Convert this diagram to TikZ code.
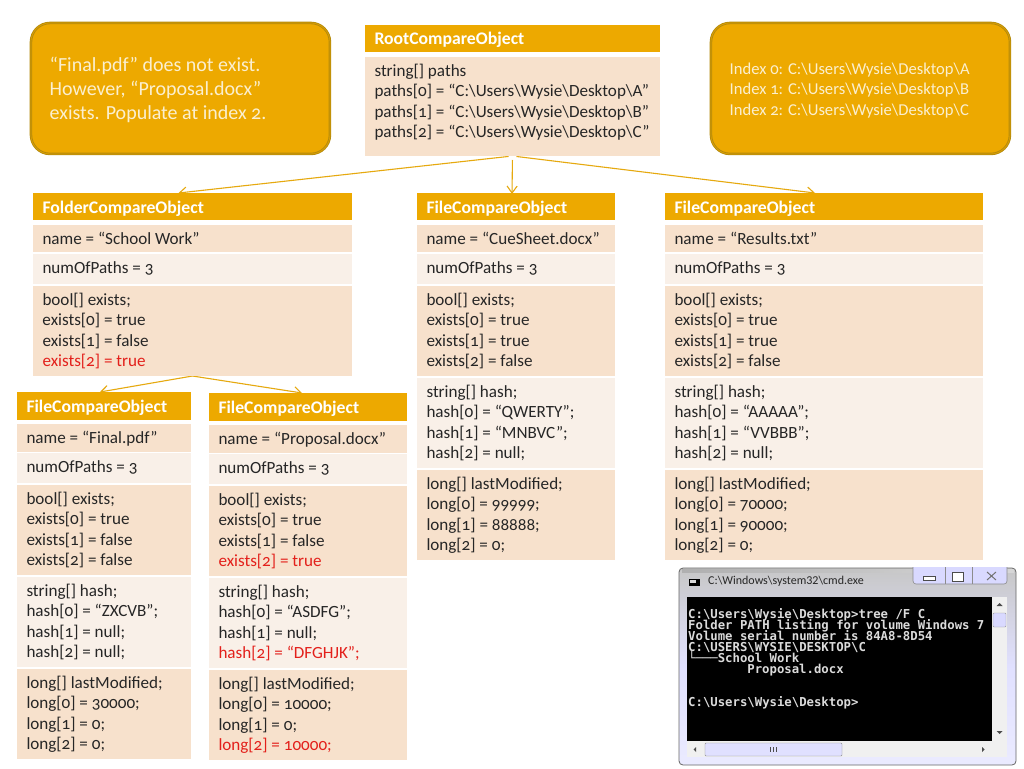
\documentclass[tikz,border=0pt]{standalone}
\usepackage{fontspec}
\setmainfont[Numbers=OldStyle]{Carlito}
\newfontfamily\consolefont{DejaVu Sans Mono}
\usetikzlibrary{arrows.meta,shadings}
\pgfdeclarelayer{behind}
\pgfsetlayers{behind,main}
\setlength{\lineskiplimit}{-30pt}
\definecolor{hdr}{HTML}{EDA900}
\definecolor{darkcell}{HTML}{F7E1CC}
\definecolor{lightcell}{HTML}{F9F0E8}
\definecolor{calloutedge}{HTML}{B58A0B}
\definecolor{creamtext}{HTML}{FBEFCF}
\definecolor{redtext}{HTML}{E3201B}
\definecolor{bodytext}{HTML}{262626}
\definecolor{conn}{HTML}{E6A90F}
\tikzset{
  cellbox/.style={anchor=north west,inner sep=0pt,outer sep=0pt,align=left},
  darkrow/.style={cellbox,fill=darkcell,text=bodytext},
  lightrow/.style={cellbox,fill=lightcell,text=bodytext},
  hdrrow/.style={cellbox,fill=hdr,text=white},
  callout/.style={anchor=north west,rounded corners=19pt,fill=hdr,draw=calloutedge,line width=.9pt,double=hdr!70!calloutedge,double distance=.7pt,inner sep=0pt,text=creamtext,align=left},
  linkarrow/.style={draw=conn,line width=1.1pt,-{Straight Barb[length=7pt,width=10pt]}},
}
\newcommand{\cell}[7]{%
  \node[#6,minimum width=#4pt,minimum height=#5pt] (#1) at (#2,#3)
   {\hspace*{9.5pt}\parbox[c][#5pt][t]{\dimexpr#4pt-9.5pt\relax}{\fontsize{17.1}{20.5}\selectfont\rule{0pt}{19pt}#7}};}
\newcommand{\headcell}[6]{%
  \node[hdrrow,minimum width=#4pt,minimum height=#5pt] (#1) at (#2,#3)
   {\hspace*{9.5pt}\parbox[c][#5pt][t]{\dimexpr#4pt-9.5pt\relax}{\fontsize{17.7}{20}\selectfont\bfseries\rule{0pt}{20pt}#6}};}
\newcommand{\rd}[1]{\textcolor{redtext}{#1}}
\begin{document}
\begin{tikzpicture}[x=1pt,y=-1pt]
\useasboundingbox (0,0) rectangle (1024,768);
% callouts
\node[callout,minimum width=299pt,minimum height=131pt] (calloutA) at (30.5,22.5)
  {\hspace*{18.5pt}\parbox[c][131pt][t]{280pt}{\fontsize{20}{24}\selectfont\rule{0pt}{48.5pt}“Final.pdf” does not exist.\\However, “Proposal.docx”\\exists. Populate at index 2.}};
\node[callout,minimum width=299pt,minimum height=131pt] (calloutB) at (710.5,22.5)
  {\hspace*{18.5pt}\parbox[c][131pt][t]{280pt}{\fontsize{16.6}{20.5}\selectfont\rule{0pt}{51.5pt}Index 0: C:\textbackslash Users\textbackslash Wysie\textbackslash Desktop\textbackslash A\\Index 1: C:\textbackslash Users\textbackslash Wysie\textbackslash Desktop\textbackslash B\\Index 2: C:\textbackslash Users\textbackslash Wysie\textbackslash Desktop\textbackslash C}};
% root
\headcell{rootH}{365}{25}{295}{27}{RootCompareObject}
\cell{rootB}{365}{57}{295}{99}{darkrow}{string[] paths\\paths[0] = “C:\textbackslash Users\textbackslash Wysie\textbackslash Desktop\textbackslash A”\\paths[1] = “C:\textbackslash Users\textbackslash Wysie\textbackslash Desktop\textbackslash B”\\paths[2] = “C:\textbackslash Users\textbackslash Wysie\textbackslash Desktop\textbackslash C”}
% folder
\headcell{folderH}{33}{193}{319}{27}{FolderCompareObject}
\cell{folderN}{33}{225}{319}{27}{darkrow}{name = “School Work”}
\cell{folderP}{33}{254}{319}{30}{lightrow}{numOfPaths = 3}
\cell{folderE}{33}{286}{319}{90}{darkrow}{bool[] exists;\\exists[0] = true\\exists[1] = false\\\rd{exists[2] = true}}
% file cue
\headcell{cueH}{417}{193}{198}{27}{FileCompareObject}
\cell{cueN}{417}{225}{198}{27}{darkrow}{name = “CueSheet.docx”}
\cell{cueP}{417}{254}{198}{30}{lightrow}{numOfPaths = 3}
\cell{cueE}{417}{286}{198}{90}{darkrow}{bool[] exists;\\exists[0] = true\\exists[1] = true\\exists[2] = false}
\cell{cueS}{417}{378}{198}{90}{lightrow}{string[] hash;\\hash[0] = “QWERTY”;\\hash[1] = “MNBVC”;\\hash[2] = null;}
\cell{cueL}{417}{470}{198}{90}{darkrow}{long[] lastModified;\\long[0] = 99999;\\long[1] = 88888;\\long[2] = 0;}
% file results
\headcell{resH}{665}{193}{318}{27}{FileCompareObject}
\cell{resN}{665}{225}{318}{27}{darkrow}{name = “Results.txt”}
\cell{resP}{665}{254}{318}{30}{lightrow}{numOfPaths = 3}
\cell{resE}{665}{286}{318}{90}{darkrow}{bool[] exists;\\exists[0] = true\\exists[1] = true\\exists[2] = false}
\cell{resS}{665}{378}{318}{90}{lightrow}{string[] hash;\\hash[0] = “AAAAA”;\\hash[1] = “VVBBB”;\\hash[2] = null;}
\cell{resL}{665}{470}{318}{90}{darkrow}{long[] lastModified;\\long[0] = 70000;\\long[1] = 90000;\\long[2] = 0;}
% final
\headcell{finH}{17}{392}{174}{28}{FileCompareObject}
\cell{finN}{17}{424}{174}{28}{darkrow}{name = “Final.pdf”}
\cell{finP}{17}{453}{174}{30}{lightrow}{numOfPaths = 3}
\cell{finE}{17}{485}{174}{90}{darkrow}{bool[] exists;\\exists[0] = true\\exists[1] = false\\exists[2] = false}
\cell{finS}{17}{577}{174}{90}{lightrow}{string[] hash;\\hash[0] = “ZXCVB”;\\hash[1] = null;\\hash[2] = null;}
\cell{finL}{17}{669}{174}{90}{darkrow}{long[] lastModified;\\long[0] = 30000;\\long[1] = 0;\\long[2] = 0;}
% proposal
\headcell{proH}{209}{393}{198}{28}{FileCompareObject}
\cell{proN}{209}{425}{198}{28}{darkrow}{name = “Proposal.docx”}
\cell{proP}{209}{454}{198}{30}{lightrow}{numOfPaths = 3}
\cell{proE}{209}{486}{198}{90}{darkrow}{bool[] exists;\\exists[0] = true\\exists[1] = false\\\rd{exists[2] = true}}
\cell{proS}{209}{578}{198}{90}{lightrow}{string[] hash;\\hash[0] = “ASDFG”;\\hash[1] = null;\\\rd{hash[2] = “DFGHJK”;}}
\cell{proL}{209}{670}{198}{90}{darkrow}{long[] lastModified;\\long[0] = 10000;\\long[1] = 0;\\\rd{long[2] = 10000;}}
% connectors, behind the boxes
\begin{pgfonlayer}{behind}
\fill[white] (0,0) rectangle (1024,768);
\draw[linkarrow,shorten <=4pt] (rootB.south) -- ([xshift=-14pt]folderH.north);
\draw[linkarrow,shorten <=4pt] (rootB.south) -- ([xshift=-4pt,yshift=-1pt]cueH.north);
\draw[linkarrow,shorten <=4pt] (rootB.south) -- ([xshift=-9pt]resH.north);
\draw[linkarrow] (folderE.south) -- ([xshift=-4pt]finH.north);
\draw[linkarrow] (folderE.south) -- ([xshift=-6pt]proH.north);
\end{pgfonlayer}
% console window
\shade[rounded corners=4pt,draw=black!60,line width=.8pt,top color=black!22,bottom color=white!92!blue,middle color=white!88!blue] (679,568) rectangle (1016,765);
\shade[left color=black!40,right color=black!10,opacity=.5] (682,569) rectangle (1014,572);
\node[anchor=west,inner sep=0pt,text=black!85,font=\addfontfeature{Numbers=Lining}\fontsize{12}{14}\selectfont] (wintitle) at (708,581.5) {C:\textbackslash Windows\textbackslash system32\textbackslash cmd.exe};
\fill[black] (689,579) rectangle (700,586);
\fill[black!15] (690,580) rectangle (696,582.5);
\draw[rounded corners=3pt,draw=black!45,fill=white!85!blue,line width=.6pt] (913,567) -- (913,584) -- (1007,584) -- (1007,567);
\draw[black!45,line width=.6pt] (945,567) -- (945,584) (972,567) -- (972,584);
\draw[black!70,fill=white] (923,576) rectangle (935,580);
\draw[black!70,fill=white] (952,572) rectangle (963,581);
\draw[black!55,line width=1pt] (987,572) -- (996,580) (996,572) -- (987,580);
\fill[black] (687,597) rectangle (992,741);
\node[anchor=north west,inner sep=0pt,text=black!14,align=left,font=\consolefont\bfseries\fontsize{12.3}{11}\selectfont] (console) at (688,608)
 {C:\textbackslash Users\textbackslash Wysie\textbackslash Desktop>tree /F C\\
  Folder PATH listing for volume Windows 7\\
  Volume serial number is 84A8-8D54\\
  C:\textbackslash USERS\textbackslash WYSIE\textbackslash DESKTOP\textbackslash C\\
  └───School Work\\
  \hspace*{59.2pt}Proposal.docx\\
  \mbox{}\\
  \mbox{}\\
  C:\textbackslash Users\textbackslash Wysie\textbackslash Desktop>};
% scrollbars
\fill[white!94!black] (992,597) rectangle (1007,741);
\fill[white!94!black] (687,741) rectangle (1007,757);
\draw[black!40,fill=white!85!blue,rounded corners=1pt] (993,613) rectangle (1006,627);
\draw[black!45,fill=white!88!blue,rounded corners=1pt] (705,743) rectangle (842,756);
\draw[black!70,line width=.5pt] (770,747) -- (770,752) (773,747) -- (773,752) (776,747) -- (776,752);
\fill[black!70] (999.5,603) -- (996.5,606) -- (1002.5,606) -- cycle;
\fill[black!70] (999.5,734) -- (996.5,731) -- (1002.5,731) -- cycle;
\fill[black!70] (696,747) -- (696,752) -- (693.5,749.5) -- cycle;
\fill[black!70] (982,747) -- (982,752) -- (984.5,749.5) -- cycle;
\end{tikzpicture}
\end{document}
